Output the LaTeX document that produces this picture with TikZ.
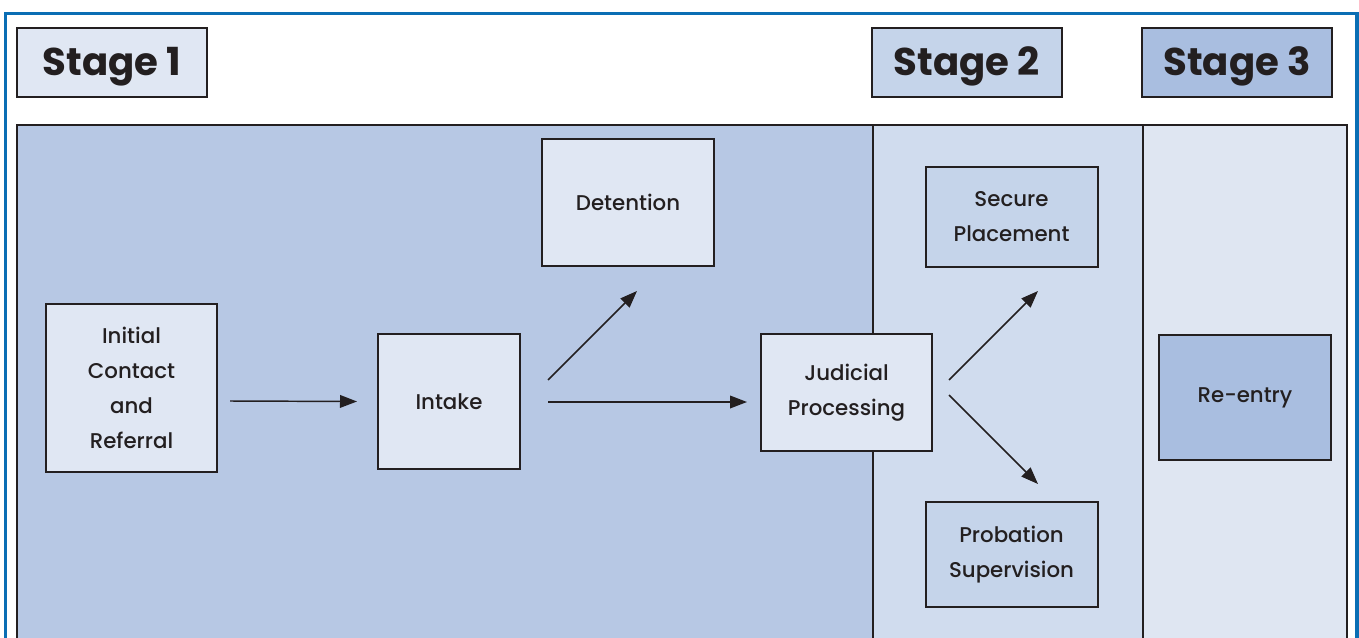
\documentclass[tikz,border=0pt]{standalone}
\usepackage{fontspec}
\setmainfont{Poppins}[UprightFont={* Medium}, BoldFont={* Bold}]
\usetikzlibrary{arrows.meta, positioning}

\definecolor{frameblue}{HTML}{0A6EB4}
\definecolor{panelone}{HTML}{B7C8E4}
\definecolor{paneltwo}{HTML}{D0DCEE}
\definecolor{panelthree}{HTML}{DFE6F2}
\definecolor{boxlight}{HTML}{E0E7F3}
\definecolor{boxmid}{HTML}{C5D4EA}
\definecolor{boxdark}{HTML}{A9BEE0}
\definecolor{ink}{HTML}{231F20}

\tikzset{
    stagelabel/.style={draw=ink, line width=1.5pt, minimum width=142.5pt, minimum height=51.75pt,
        inner sep=0pt, text height=20pt, text depth=0pt,
        font=\fontsize{29}{34}\selectfont\bfseries, text=ink},
    panel/.style={draw=ink, line width=1.5pt},
    process/.style={draw=ink, line width=1.5pt, fill=boxlight, align=center, text=ink,
        font=\fontsize{16}{26.25}\selectfont, inner sep=0pt},
    flow/.style={->, draw=ink, line width=1.1pt},
    >={Triangle[length=12.75pt, width=9.5pt]}
}

\begin{document}
\begin{tikzpicture}[x=0.75pt, y=-0.75pt]
\useasboundingbox (0,0) rectangle (1359,638);
\fill[white] (0,0) rectangle (1359,638);
\begin{scope}
\clip (0,0) rectangle (1359,638);
% Stage panels
\draw[panel, fill=panelone] (17,125) rectangle (873,700);
\draw[panel, fill=paneltwo] (873,125) rectangle (1143,700);
\draw[panel, fill=panelthree] (1143,125) rectangle (1347,700);
% Outer frame
\draw[frameblue, line width=2.6pt] (5.5,13.5) rectangle (1357,700);
\end{scope}

% Stage labels
\node[stagelabel, fill=boxlight] (stageA) at (112,62.5) {Stage 1};
\node[stagelabel, fill=boxmid] (stageB) at (967,62.5) {Stage 2};
\node[stagelabel, fill=boxdark] (stageC) at (1237,62.5) {Stage 3};

% Process boxes
\node[process, minimum width=128.25pt, minimum height=126pt] (contact) at (131.5,388)
    {Initial\\Contact\\and\\Referral};
\node[process, minimum width=106.5pt, minimum height=101.25pt] (intake) at (449,401.5) {Intake};
\node[process, minimum width=129pt, minimum height=95.25pt] (detention) at (628,202.5) {Detention};
\node[process, minimum width=128.25pt, minimum height=87.75pt] (judicial) at (846.5,392.5)
    {Judicial\\Processing};
\node[process, fill=boxmid, minimum width=129pt, minimum height=75pt] (secure) at (1011.5,217)
    {Secure\\Placement};
\node[process, fill=boxmid, minimum width=129pt, minimum height=78.75pt] (probation) at (1011.5,554.5)
    {Probation\\Supervision};
\node[process, fill=boxdark, minimum width=129pt, minimum height=93.75pt] (reentry) at (1245,397.5)
    {Re-entry};

% Flow arrows
\draw[flow] ([shift={(12,13)}]contact.east) -- ([shift={(-20,0)}]intake.west);
\draw[flow] ([shift={(27,-21.5)}]intake.east) -- ([shift={(9,24)}]detention.south);
\draw[flow] ([shift={(27,0.5)}]intake.east) -- ([shift={(-13,9.5)}]judicial.west);
\draw[flow] ([shift={(16,-12.5)}]judicial.east) -- ([shift={(26.5,23)}]secure.south);
\draw[flow] ([shift={(16,2.5)}]judicial.east) -- ([shift={(26.5,-17)}]probation.north);
\end{tikzpicture}
\end{document}
